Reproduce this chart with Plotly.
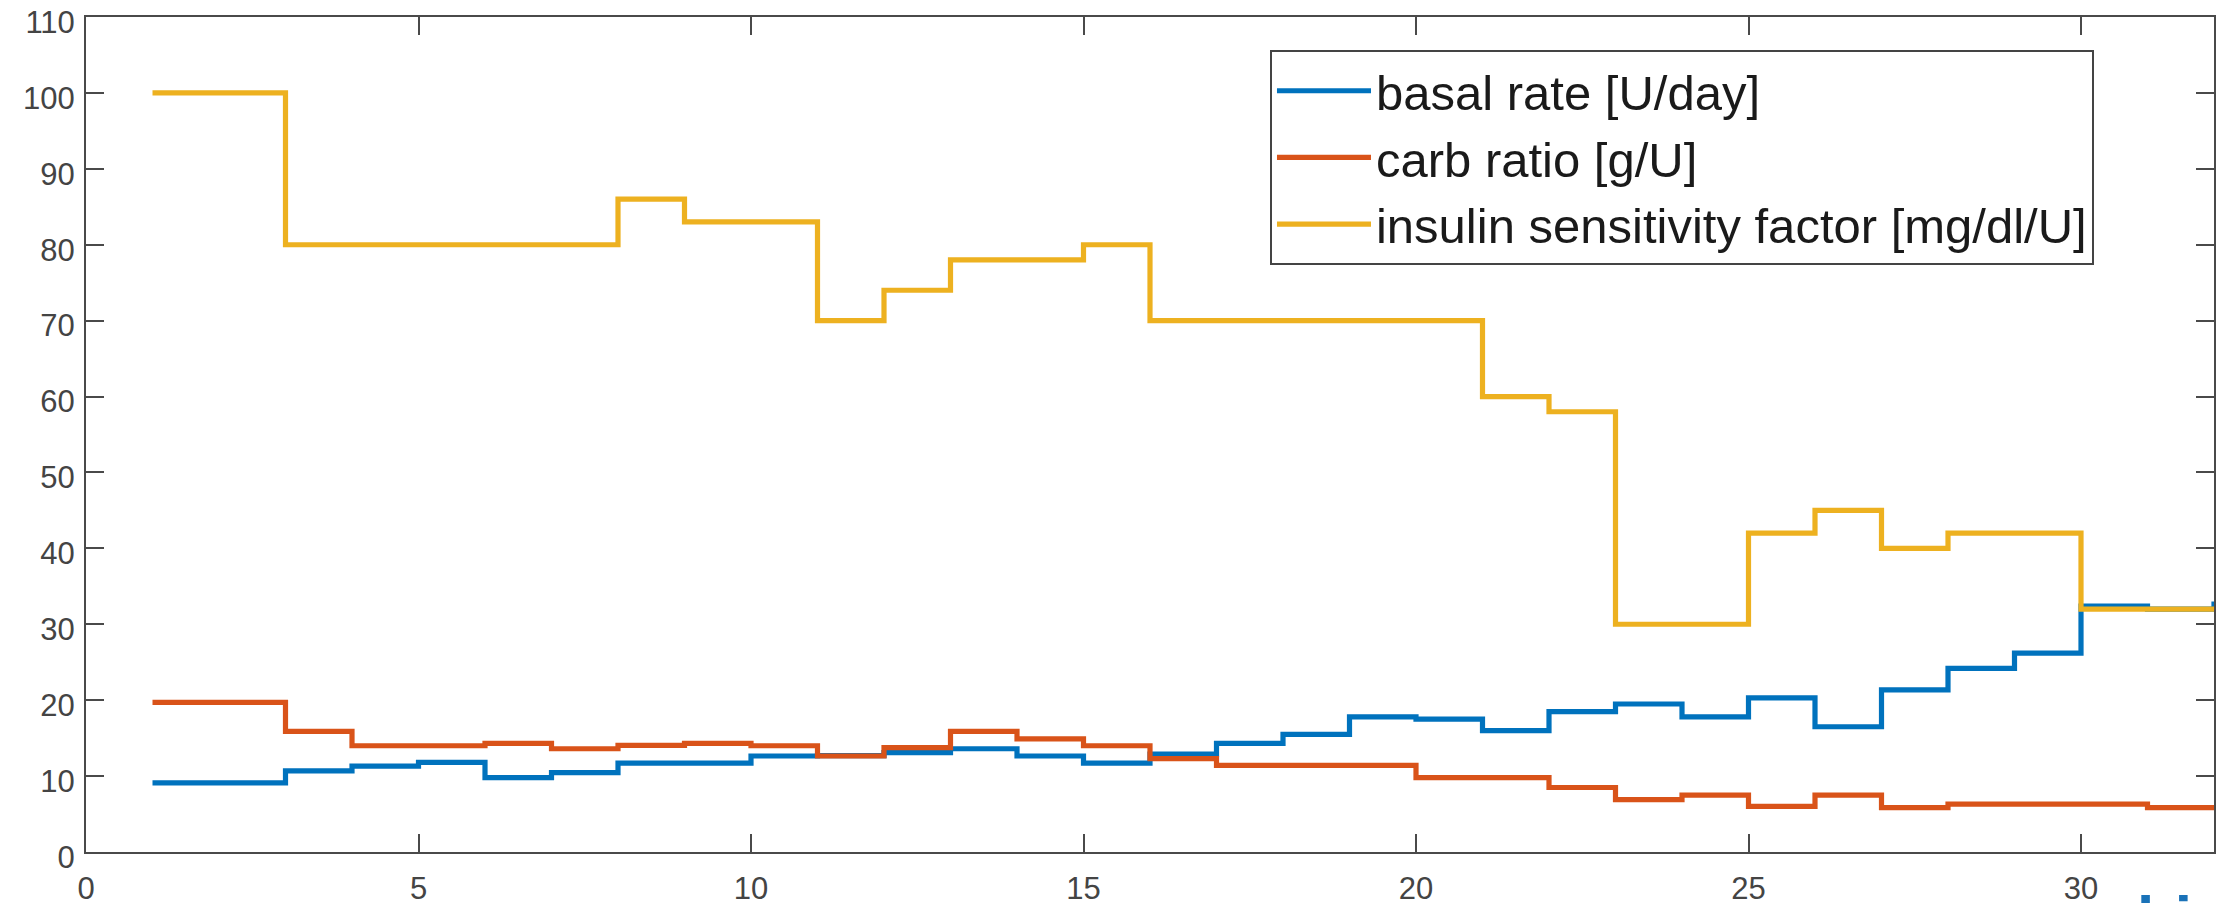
import plotly.graph_objects as go

# Data (x = segment start, MATLAB-style stairs)
x_vals = list(range(1, 33))
basal_rate = [9.1, 9.1, 10.7, 11.3, 11.8, 9.8, 10.45, 11.7, 11.7, 12.65, 12.7, 13.1,
              13.6, 12.65, 11.7, 12.9, 14.3, 15.5, 17.8, 17.5, 16.0, 18.5, 19.5, 17.8,
              20.3, 16.5, 21.35, 24.2, 26.2, 32.4, 32.0, 33.0]
carb_ratio = [19.7, 19.7, 15.9, 14.0, 14.0, 14.3, 13.6, 14.05, 14.3, 14.0, 12.65, 13.75,
              15.9, 14.9, 14.0, 12.3, 11.4, 11.4, 11.4, 9.8, 9.8, 8.5, 6.9, 7.5,
              6.0, 7.5, 5.85, 6.3, 6.3, 6.3, 5.85, 5.85]
isf = [100, 100, 80, 80, 80, 80, 80, 86, 83, 83, 70, 74,
       78, 78, 80, 70, 70, 70, 70, 70, 60, 58, 30, 30,
       42, 45, 40, 42, 42, 32, 32, 32]

series_names = ["basal rate [U/day]", "carb ratio [g/U]", "insulin sensitivity factor [mg/dl/U]"]
series_colors = ["#0072BD", "#D95319", "#EDB120"]
x_ticks = [0, 5, 10, 15, 20, 25, 30]
y_ticks = list(range(0, 111, 10))

fig = go.Figure()
for name, vals, col in zip(series_names, [basal_rate, carb_ratio, isf], series_colors):
    fig.add_trace(go.Scatter(x=x_vals, y=vals, mode="lines", name=name,
                             line=dict(color=col, width=5.2, shape="hv")))

axis_common = dict(
    showline=True, linecolor="#4a4a4a", linewidth=2, mirror="ticks",
    ticks="inside", ticklen=18, tickwidth=2, tickcolor="#4a4a4a",
    showgrid=False, zeroline=False, ticklabeloverflow="allow", automargin=False,
    tickfont=dict(family="Liberation Sans, Arial, sans-serif", size=31, color="#444444"),
)

fig.update_layout(
    width=2231, height=903,
    margin=dict(l=78, r=25, t=9, b=59, autoexpand=False),
    paper_bgcolor="white", plot_bgcolor="white",
    xaxis=dict(range=[0, 32], tickvals=x_ticks, ticklabelstandoff=8, **axis_common),
    yaxis=dict(range=[0, 110], tickvals=y_ticks, ticklabelstandoff=3,
               ticklabelshift=5, **axis_common),
    legend=dict(
        x=0.9436, y=0.960, xanchor="right", yanchor="top",
        bgcolor="white", bordercolor="#444444", borderwidth=2, itemwidth=94,
        font=dict(family="Liberation Sans, Arial, sans-serif", size=49, color="#1a1a1a"),
    ),
    showlegend=True,
    annotations=[dict(
        text="<b>bi</b>", xref="paper", yref="paper", x=0.9629, y=-0.0347,
        xanchor="left", yanchor="top", showarrow=False,
        font=dict(family="Liberation Sans, Arial, sans-serif", size=62, color="#1a72b8"),
    )],
)

fig.write_html("out.html")
